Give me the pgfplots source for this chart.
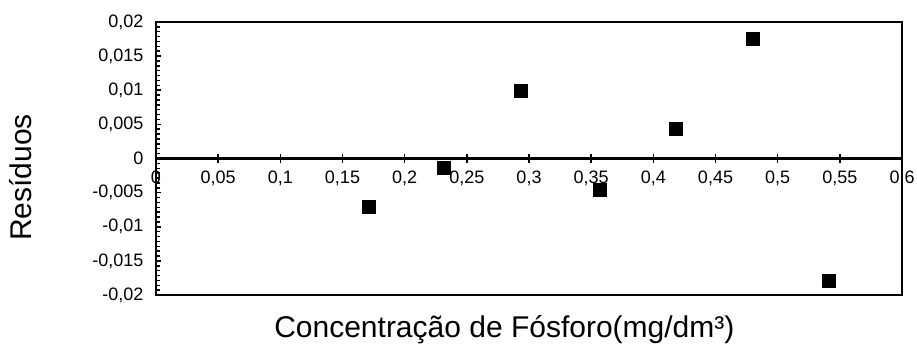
\documentclass[border=0pt]{standalone}
\usepackage{fontspec}
\setmainfont{Liberation Sans}
\usepackage{pgfplots}
\pgfplotsset{compat=1.18}
\begin{document}
\begin{tikzpicture}
\begin{axis}[
  scale only axis, width=746pt, height=273pt,
  xmin=0, xmax=0.6, ymin=-0.02, ymax=0.02,
  axis line style={line width=2.5pt},
  xtick=\empty,
  scaled y ticks=false,
  ytick={-0.02,-0.015,-0.01,-0.005,0,0.005,0.01,0.015,0.02},
  yticklabels={{-0,02},{-0,015},{-0,01},{-0,005},{0},{0,005},{0,01},{0,015},{0,02}},
  minor y tick num=6,
  tick align=inside,
  ytick pos=left,
  major tick length=5pt, minor tick length=4pt,
  tick style={line width=1.5pt, black},
  yticklabel style={font=\fontsize{18}{21}\selectfont, xshift=-9pt},
  xlabel={Concentração de Fósforo(mg/dm³)},
  ylabel={Resíduos},
  label style={font=\fontsize{30}{34}\selectfont},
  xlabel style={at={(axis description cs:0.467,-0.156)}, anchor=base},
  ylabel style={at={(axis description cs:-0.181,0.43)}, anchor=center},
]
\addplot[only marks, mark=square*, mark size=6.5pt, black] coordinates {
  (0.1707,-0.0071)
  (0.2315,-0.0014)
  (0.2935,0.0100)
  (0.3565,-0.0046)
  (0.4177,0.0043)
  (0.4796,0.0175)
  (0.5410,-0.0179)
};
\end{axis}
\begin{axis}[
  scale only axis, width=746pt, height=273pt,
  xmin=0, xmax=0.6, ymin=-0.02, ymax=0.02,
  axis x line=middle, axis y line=none,
  x axis line style={line width=2.5pt, -},
  scaled x ticks=false,
  xtick={0,0.05,0.1,0.15,0.2,0.25,0.3,0.35,0.4,0.45,0.5,0.55,0.6},
  xticklabels={{0},{0,05},{0,1},{0,15},{0,2},{0,25},{0,3},{0,35},{0,4},{0,45},{0,5},{0,55},{0,6}},
  minor x tick num=4,
  tick align=center,
  major tick length=9pt, minor tick length=3pt,
  tick style={line width=1.5pt, black},
  xticklabel style={font=\fontsize{18}{21}\selectfont, yshift=-4pt},
]
\end{axis}
\pgfresetboundingbox
\path[use as bounding box] (-156pt,-50pt) rectangle (761pt,295pt);
\end{tikzpicture}
\end{document}
